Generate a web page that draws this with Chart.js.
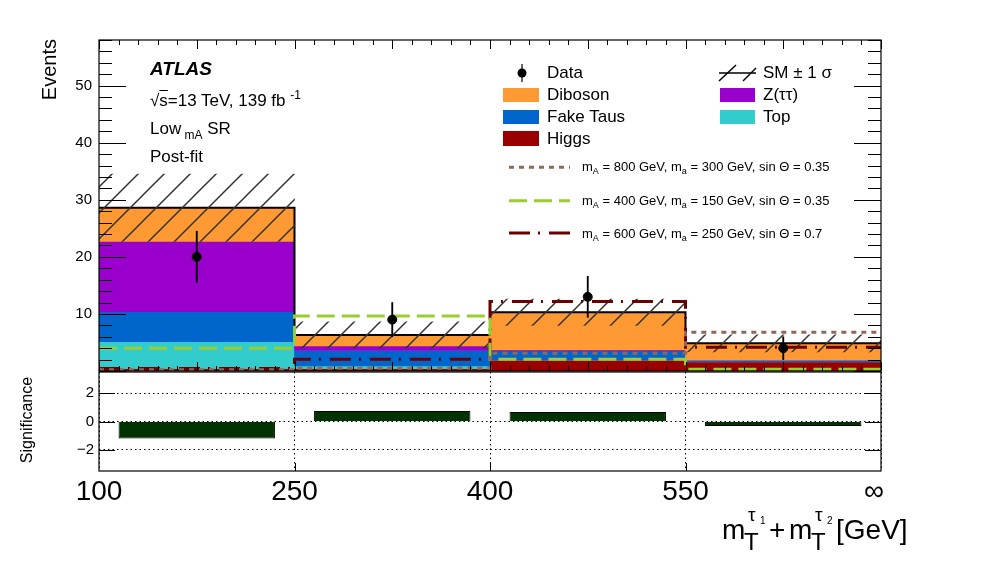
<!DOCTYPE html>
<html>
<head>
<meta charset="utf-8">
<script src="https://cdn.jsdelivr.net/npm/chart.js@4.4.0/dist/chart.umd.min.js"></script>
<style>
body { margin: 0; background: #fff; width: 996px; height: 572px; overflow: hidden; position: relative;
       font-family: "Liberation Sans", Arial, sans-serif; color: #000; }
canvas { position: absolute; left: 0; }
.t { position: absolute; line-height: 1; white-space: nowrap; }
.sw { position: absolute; height: 14px; }
.lg { font-size: 17px; }
.sl { font-size: 13px; }
.sl sub { font-size: 9px; vertical-align: -3px; }
svg { position: absolute; overflow: visible; }
</style>
</head>
<body>
<canvas id="mainChart" width="996" height="387" style="top:0"></canvas>
<canvas id="sigChart" width="996" height="200" style="top:358px"></canvas>

<!-- axis titles -->
<div class="t" style="left:39px;top:239px;width:200px;text-align:right;font-size:20px;transform:rotate(-90deg);transform-origin:left top;">Events</div>
<div class="t" style="left:19px;top:520px;width:200px;text-align:center;font-size:16px;transform:rotate(-90deg);transform-origin:left top;">Significance</div>

<div class="t" style="left:722px;top:516px;font-size:28px;">m</div>
<div class="t" style="left:744px;top:530px;font-size:24px;">T</div>
<div class="t" style="left:748px;top:505px;font-size:19px;">τ</div>
<div class="t" style="left:760px;top:516px;font-size:10px;">1</div>
<div class="t" style="left:769px;top:516px;font-size:28px;">+</div>
<div class="t" style="left:789px;top:516px;font-size:28px;">m</div>
<div class="t" style="left:811px;top:530px;font-size:24px;">T</div>
<div class="t" style="left:815px;top:505px;font-size:19px;">τ</div>
<div class="t" style="left:827px;top:516px;font-size:10px;">2</div>
<div class="t" style="left:836px;top:516px;font-size:28px;">[GeV]</div>

<!-- ATLAS label -->
<div class="t" style="left:150px;top:59px;font-size:19px;font-weight:bold;font-style:italic;">ATLAS</div>
<div class="t" style="left:150px;top:89px;font-size:17px;">√<span style="text-decoration:overline">s</span>=13 TeV, 139 fb <span style="font-size:12px;vertical-align:7px;">-1</span></div>
<div class="t" style="left:150px;top:120px;font-size:17px;">Low<span style="font-size:12px;vertical-align:-5px;"> mA</span> SR</div>
<div class="t" style="left:150px;top:148px;font-size:17px;">Post-fit</div>

<!-- legend -->
<svg style="left:512px;top:63px" width="20" height="20"><line x1="10" y1="1" x2="10" y2="19" stroke="#000" stroke-width="1.2"/><circle cx="10" cy="10" r="4.5" fill="#000"/></svg>
<div class="t lg" style="left:547px;top:64px;">Data</div>
<div class="sw" style="left:503px;top:88px;width:36px;background:#ff9933"></div>
<div class="t lg" style="left:547px;top:86px;">Diboson</div>
<div class="sw" style="left:503px;top:110px;width:36px;background:#0066cc"></div>
<div class="t lg" style="left:547px;top:108px;">Fake Taus</div>
<div class="sw" style="left:503px;top:131px;width:36px;height:15px;background:#990000"></div>
<div class="t lg" style="left:547px;top:130px;">Higgs</div>

<svg style="left:719px;top:64px" width="38" height="18"><line x1="0" y1="9" x2="37" y2="9" stroke="#000" stroke-width="1.5"/><line x1="0" y1="17" x2="17" y2="1" stroke="#000" stroke-width="1.5"/><line x1="24" y1="17" x2="37" y2="4" stroke="#000" stroke-width="1.5"/></svg>
<div class="t lg" style="left:763px;top:64px;">SM ± 1 σ</div>
<div class="sw" style="left:720px;top:88px;width:35px;background:#9900cc"></div>
<div class="t lg" style="left:763px;top:86px;">Z(ττ)</div>
<div class="sw" style="left:720px;top:110px;width:35px;background:#33cccc"></div>
<div class="t lg" style="left:763px;top:108px;">Top</div>

<svg style="left:509px;top:160px" width="62" height="80">
  <line x1="0" y1="7.3" x2="61" y2="7.3" stroke="#8a6a5a" stroke-width="3" stroke-dasharray="5 5"/>
  <line x1="0" y1="40.7" x2="61" y2="40.7" stroke="#9acd32" stroke-width="3" stroke-dasharray="18 7"/>
  <line x1="0" y1="73" x2="61" y2="73" stroke="#6b0000" stroke-width="3" stroke-dasharray="21 8 2 9"/>
</svg>
<div class="t sl" style="left:582px;top:160px;">m<sub>A</sub> = 800 GeV, m<sub>a</sub> = 300 GeV, sin Θ = 0.35</div>
<div class="t sl" style="left:582px;top:194px;">m<sub>A</sub> = 400 GeV, m<sub>a</sub> = 150 GeV, sin Θ = 0.35</div>
<div class="t sl" style="left:582px;top:227px;">m<sub>A</sub> = 600 GeV, m<sub>a</sub> = 250 GeV, sin Θ = 0.7</div>

<script>
// bin edges of m_T(tau1) + m_T(tau2)
const binLabels = ['100', '250', '400', '550', '∞'];

// post-fit background yields per bin
const higgs    = [0.4, 0.4, 1.9, 1.6];
const topQuark = [4.75, 0.5, 0.1, 0.05];
const fakeTaus = [5.25, 2.7, 1.5, 0.2];
const ztautau  = [12.3, 0.8, 0.2, 0.05];
const diboson  = [5.9, 1.9, 6.6, 2.95];
const smUnc    = [5.9, 2.3, 2.3, 1.5];

// data
const observed    = [20, 9, 13, 4];
const observedErr = [4.5, 3.0, 3.6, 2.0];

// signal hypotheses
const sigA800 = [0.2, 0.5, 3.1, 6.8];
const sigA400 = [4.0, 9.65, 2.05, 0.3];
const sigA600 = [0.45, 2.05, 12.2, 4.15];

// lower panel
const significance = [-1.2, 0.75, 0.68, -0.32];

const FONT = '"Liberation Sans", Arial, sans-serif';

// hatch for the SM uncertainty band
function makeHatch() {
    const c = document.createElement('canvas');
    c.width = 26; c.height = 26;
    const g = c.getContext('2d');
    g.strokeStyle = '#333';
    g.lineWidth = 1.5;
    g.beginPath();
    for (const o of [-26, 0, 26]) {
        g.moveTo(o - 1, 27);
        g.lineTo(o + 27, -1);
    }
    g.stroke();
    return g.createPattern(c, 'repeat');
}

// floating bars for the stacked backgrounds
const components = [
    { label: 'Higgs', values: higgs, color: '#990000' },
    { label: 'Top', values: topQuark, color: '#33cccc' },
    { label: 'Fake Taus', values: fakeTaus, color: '#0066cc' },
    { label: 'Z(tautau)', values: ztautau, color: '#9900cc' },
    { label: 'Diboson', values: diboson, color: '#ff9933' },
];
let base = higgs.map(() => 0);
const stackSets = components.map((c, k) => {
    const ds = {
        type: 'bar',
        label: c.label,
        data: c.values.map((v, i) => ({ x: i + 0.5, y: [base[i], base[i] + v] })),
        backgroundColor: c.color,
        borderWidth: 0,
        grouped: false,
        barPercentage: 1,
        categoryPercentage: 1,
        order: 20 - k
    };
    base = base.map((b, i) => b + c.values[i]);
    return ds;
});
const total = base;

function steps(vals) {
    const pts = vals.map((v, i) => ({ x: i, y: v }));
    pts.push({ x: vals.length, y: vals[vals.length - 1] });
    return pts;
}

function stepLine(label, vals, color, width, dash, order) {
    return {
        type: 'line', label: label, data: steps(vals),
        borderColor: color, borderWidth: width, borderDash: dash,
        stepped: true, pointRadius: 0, fill: false, order: order
    };
}

const frameTicks = {
    id: 'frameTicks',
    afterDatasetsDraw(chart, args, opts) {
        const { ctx, chartArea: a, scales: { x, y } } = chart;
        ctx.save();
        ctx.strokeStyle = '#000';
        ctx.lineWidth = 1;
        ctx.beginPath();
        opts.yTicks.forEach(([v, len]) => {
            const py = Math.round(y.getPixelForValue(v)) + 0.5;
            ctx.moveTo(a.left, py); ctx.lineTo(a.left + len, py);
            ctx.moveTo(a.right, py); ctx.lineTo(a.right - len, py);
        });
        opts.xTicks.forEach(([v, len]) => {
            const px = Math.round(x.getPixelForValue(v)) + 0.5;
            ctx.moveTo(px, a.bottom); ctx.lineTo(px, a.bottom - len);
            if (opts.xTop) { ctx.moveTo(px, a.top); ctx.lineTo(px, a.top + len); }
        });
        ctx.stroke();
        ctx.lineWidth = 1.2;
        ctx.strokeRect(a.left, a.top, a.right - a.left, a.bottom - a.top);
        ctx.restore();
    }
};

const mainYTicks = [];
for (let v = 0; v <= 58; v += 2) mainYTicks.push([v, v % 10 === 0 ? 27 : 13]);
const mainXTicks = [];
for (let k = 0; k <= 40; k++) mainXTicks.push([k / 10, k % 5 === 0 ? 9 : 5]);

const mainCtx = document.getElementById('mainChart').getContext('2d');
new Chart(mainCtx, {
    type: 'bar',
    data: {
        datasets: [
            {
                type: 'line', label: 'Data',
                data: observed.map((v, i) => ({ x: i + 0.5, y: v })),
                showLine: false, pointRadius: 4.5, pointBackgroundColor: '#000',
                pointBorderColor: '#000', order: 0
            },
            {
                type: 'bar', label: 'Data error',
                data: observed.map((v, i) => ({ x: i + 0.5, y: [v - observedErr[i], v + observedErr[i]] })),
                backgroundColor: '#000', barThickness: 1.2, grouped: false, order: 1
            },
            stepLine('mA=800', sigA800, '#8a6a5a', 3, [5, 5], 2),
            stepLine('mA=400', sigA400, '#9acd32', 3, [18, 7], 3),
            stepLine('mA=600', sigA600, '#6b0000', 3, [21, 8, 2, 9], 4),
            {
                type: 'bar', label: 'SM unc',
                data: total.map((v, i) => ({ x: i + 0.5, y: [v - smUnc[i], v + smUnc[i]] })),
                backgroundColor: makeHatch(), borderWidth: 0, grouped: false,
                barPercentage: 1, categoryPercentage: 1, order: 6
            },
            stepLine('SM', total, '#000', 2, [], 7),
            ...stackSets
        ]
    },
    options: {
        responsive: false,
        animation: false,
        events: [],
        layout: { padding: { left: 0, top: 40, right: 115, bottom: 16 } },
        plugins: {
            legend: { display: false },
            tooltip: { enabled: false },
            frameTicks: { yTicks: mainYTicks, xTicks: mainXTicks, xTop: true }
        },
        scales: {
            x: {
                type: 'linear', min: 0, max: 4, offset: false, display: false,
                afterBuildTicks: s => { s.ticks = [0, 1, 2, 3, 4].map(value => ({ value })); }
            },
            y: {
                min: 0, max: 58,
                afterBuildTicks: s => { s.ticks = [10, 20, 30, 40, 50].map(value => ({ value })); },
                afterFit: s => { s.width = 99; },
                grid: { display: false, drawTicks: false },
                border: { display: false },
                ticks: { color: '#000', padding: 7, font: { family: FONT, size: 15 } }
            }
        }
    },
    plugins: [frameTicks]
});

const sigCtx = document.getElementById('sigChart').getContext('2d');
new Chart(sigCtx, {
    type: 'bar',
    data: {
        datasets: [{
            label: 'Significance',
            data: significance.map((v, i) => ({ x: i + 0.5, y: v })),
            backgroundColor: '#003300', borderColor: '#000', borderWidth: 1,
            grouped: false, barPercentage: 0.8, categoryPercentage: 1
        }]
    },
    options: {
        responsive: false,
        animation: false,
        events: [],
        layout: { padding: { left: 0, top: 14, right: 115, bottom: 0 } },
        plugins: {
            legend: { display: false },
            tooltip: { enabled: false },
            frameTicks: { yTicks: [[-2, 16], [0, 16], [2, 16]], xTicks: [[1, 8], [2, 8], [3, 8]], xTop: false }
        },
        scales: {
            x: {
                type: 'linear', min: 0, max: 4, offset: false,
                afterBuildTicks: s => { s.ticks = [0, 1, 2, 3, 4].map(value => ({ value })); },
                afterFit: s => { s.height = 87; },
                grid: { color: '#000', lineWidth: 1, drawTicks: false, offset: false },
                border: { display: false, dash: [1.5, 3] },
                ticks: {
                    color: '#000', padding: 4, maxRotation: 0, autoSkip: false,
                    font: { family: FONT, size: 28 },
                    // the open-ended last edge sits a little inside the frame
                    callback: (v, i) => (i === binLabels.length - 1 ? binLabels[i] + '\u2002' : binLabels[i])
                }
            },
            y: {
                min: -3.5, max: 3.5,
                afterBuildTicks: s => { s.ticks = [-2, 0, 2].map(value => ({ value })); },
                afterFit: s => { s.width = 99; },
                grid: { color: '#000', lineWidth: 1, drawTicks: false },
                border: { display: false, dash: [1.5, 3] },
                ticks: {
                    color: '#000', padding: 5, font: { family: FONT, size: 15 },
                    callback: v => (v < 0 ? '\u2212' + Math.abs(v) : String(v))
                }
            }
        }
    },
    plugins: [frameTicks]
});
</script>
</body>
</html>
